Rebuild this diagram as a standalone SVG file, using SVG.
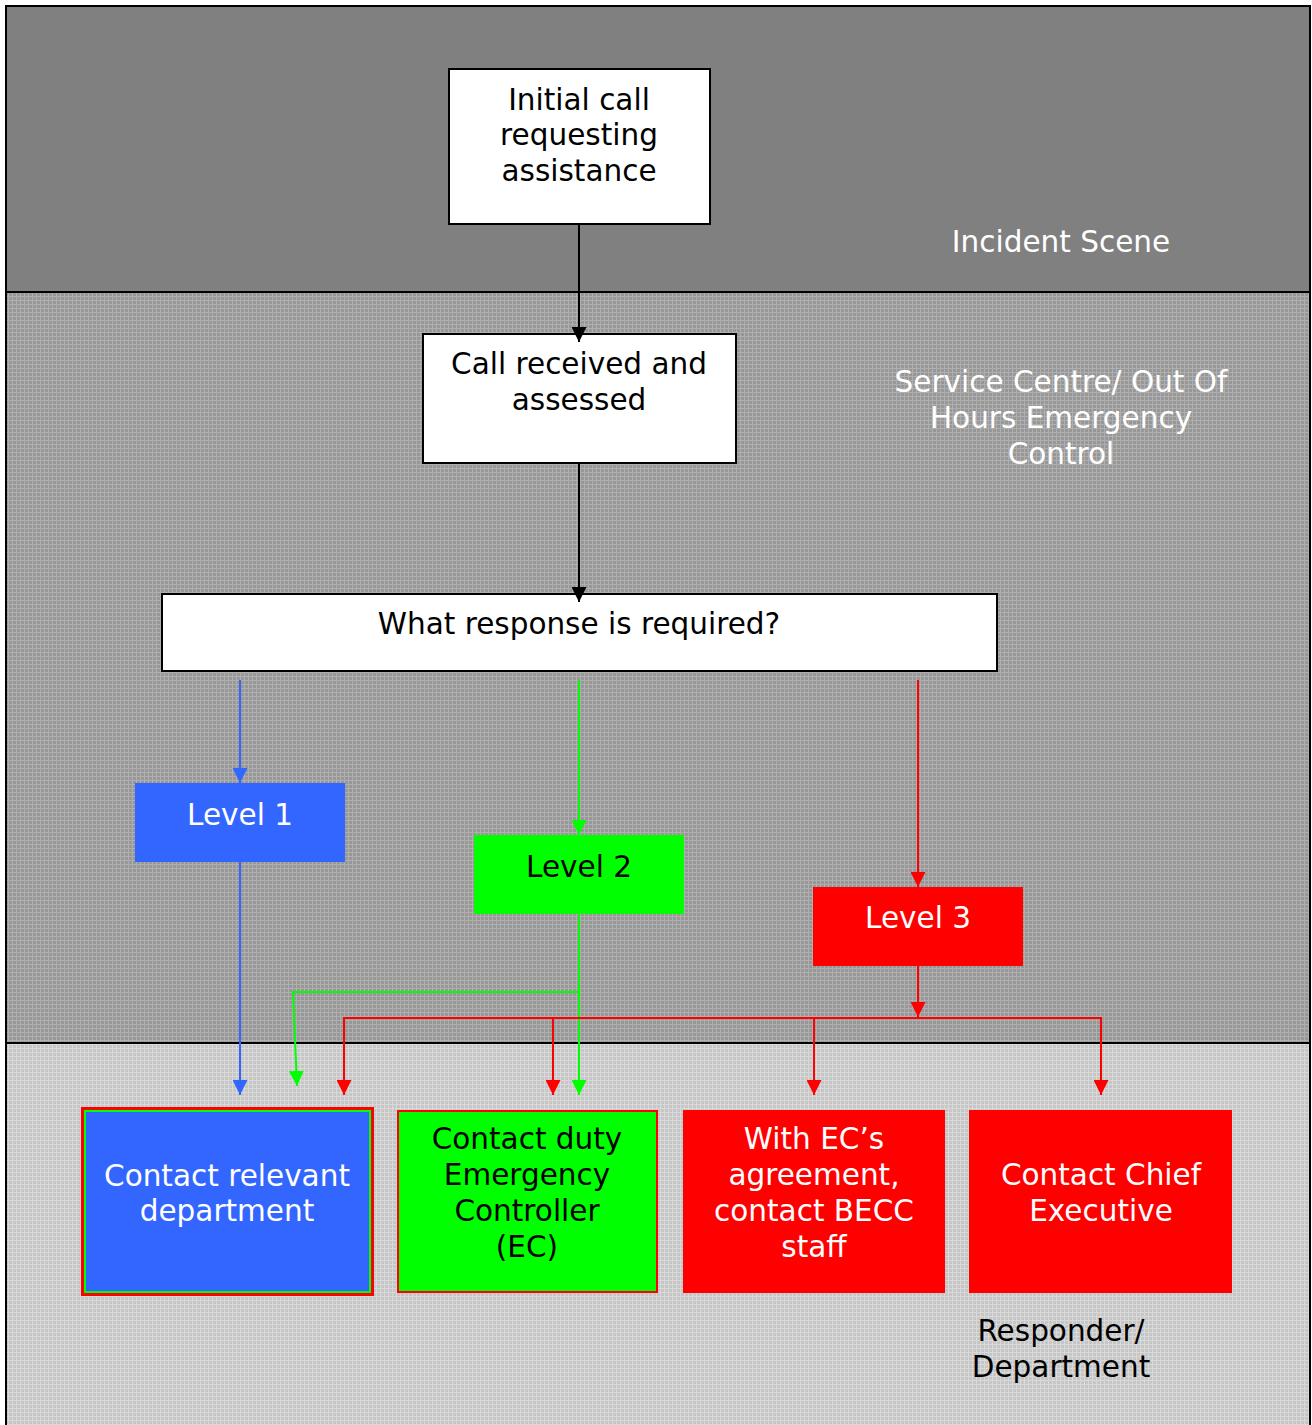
<svg xmlns="http://www.w3.org/2000/svg" width="1312" height="1425" viewBox="0 0 1312 1425">
  <defs>
    <pattern id="texMid" width="4" height="4" patternUnits="userSpaceOnUse">
      <rect width="4" height="4" fill="#979797"/>
      <rect width="4" height="1" fill="#afafaf"/>
      <rect width="1" height="4" fill="#afafaf"/>
    </pattern>
    <pattern id="texLow" width="4" height="4" patternUnits="userSpaceOnUse">
      <rect width="4" height="4" fill="#c6c6c6"/>
      <rect width="4" height="1" fill="#d9d9d9"/>
      <rect width="1" height="4" fill="#d9d9d9"/>
    </pattern>
    <marker id="ahBlack" viewBox="0 0 15 15" refX="15" refY="7.5" markerWidth="15" markerHeight="15" markerUnits="userSpaceOnUse" orient="auto">
      <path d="M0,0 L15,7.5 L0,15 Z" fill="#000000"/>
    </marker>
    <marker id="ahBlue" viewBox="0 0 15 15" refX="15" refY="7.5" markerWidth="15" markerHeight="15" markerUnits="userSpaceOnUse" orient="auto">
      <path d="M0,0 L15,7.5 L0,15 Z" fill="#3366ff"/>
    </marker>
    <marker id="ahGreen" viewBox="0 0 15 15" refX="15" refY="7.5" markerWidth="15" markerHeight="15" markerUnits="userSpaceOnUse" orient="auto">
      <path d="M0,0 L15,7.5 L0,15 Z" fill="#00ff00"/>
    </marker>
    <marker id="ahRed" viewBox="0 0 15 15" refX="15" refY="7.5" markerWidth="15" markerHeight="15" markerUnits="userSpaceOnUse" orient="auto">
      <path d="M0,0 L15,7.5 L0,15 Z" fill="#ff0000"/>
    </marker>
  </defs>
  <style>
    text { font-family: "DejaVu Sans", Verdana, sans-serif; font-size: 29.5px; text-anchor: middle; }
    .dark { fill: #000000; }
    .light { fill: #ffffff; }
    .box { fill: #ffffff; stroke: #000000; stroke-width: 2; }
    .c { fill: none; stroke-width: 2; }
    .cb { stroke: #000000; }
    .cblue { stroke: #3366ff; }
    .cgreen { stroke: #00ff00; }
    .cred { stroke: #ff0000; }
  </style>

  <!-- swimlane bands -->
  <g id="lanes">
    <rect x="0" y="0" width="1312" height="1425" fill="#ffffff"/>
    <rect x="6" y="6" width="1304" height="286" fill="#808080"/>
    <rect x="6" y="292" width="1304" height="751" fill="url(#texMid)"/>
    <rect x="6" y="1043" width="1304" height="382" fill="url(#texLow)"/>
    <path d="M6,1425 V6 H1310 V1425" fill="none" stroke="#000000" stroke-width="2"/>
    <line x1="6" y1="292" x2="1310" y2="292" stroke="#000000" stroke-width="2"/>
    <line x1="6" y1="1043" x2="1310" y2="1043" stroke="#000000" stroke-width="2"/>
  </g>

  <!-- lane labels -->
  <g id="label-incident">
    <text class="light" x="1061" y="252">Incident Scene</text>
  </g>
  <g id="label-service">
    <text class="light" x="1061" y="392">Service Centre/ Out Of</text>
    <text class="light" x="1061" y="428">Hours Emergency</text>
    <text class="light" x="1061" y="464">Control</text>
  </g>
  <g id="label-responder">
    <text class="dark" x="1061" y="1341">Responder/</text>
    <text class="dark" x="1061" y="1377">Department</text>
  </g>

  <!-- nodes -->
  <g id="initial-call">
    <rect class="box" x="449" y="69" width="261" height="155"/>
    <text class="dark" x="579" y="110">Initial call</text>
    <text class="dark" x="579" y="145">requesting</text>
    <text class="dark" x="579" y="181">assistance</text>
  </g>
  <g id="call-received">
    <rect class="box" x="423" y="334" width="313" height="129"/>
    <text class="dark" x="579" y="374">Call received and</text>
    <text class="dark" x="579" y="410">assessed</text>
  </g>
  <g id="what-response">
    <rect class="box" x="162" y="594" width="835" height="77"/>
    <text class="dark" x="579" y="634">What response is required?</text>
  </g>
  <g id="level-1">
    <rect x="135" y="783" width="210" height="79" fill="#3366ff"/>
    <text class="light" x="240" y="825">Level 1</text>
  </g>
  <g id="level-2">
    <rect x="474" y="835" width="210" height="79" fill="#00ff00"/>
    <text class="dark" x="579" y="877">Level 2</text>
  </g>
  <g id="level-3">
    <rect x="813" y="887" width="210" height="79" fill="#ff0000"/>
    <text class="light" x="918" y="928">Level 3</text>
  </g>
  <g id="contact-department">
    <rect x="81" y="1107" width="293" height="189" fill="#ff0000"/>
    <rect x="84" y="1110" width="287" height="183" fill="#00ff00"/>
    <rect x="86" y="1112" width="283" height="179" fill="#3366ff"/>
    <text class="light" x="227" y="1186">Contact relevant</text>
    <text class="light" x="227" y="1221">department</text>
  </g>
  <g id="contact-ec">
    <rect x="398" y="1111" width="259" height="181" fill="#00ff00" stroke="#ff0000" stroke-width="2"/>
    <text class="dark" x="527" y="1149">Contact duty</text>
    <text class="dark" x="527" y="1185">Emergency</text>
    <text class="dark" x="527" y="1221">Controller</text>
    <text class="dark" x="527" y="1257">(EC)</text>
  </g>
  <g id="contact-becc">
    <rect x="683" y="1110" width="262" height="183" fill="#ff0000"/>
    <text class="light" x="814" y="1149">With EC’s</text>
    <text class="light" x="814" y="1185">agreement,</text>
    <text class="light" x="814" y="1221">contact BECC</text>
    <text class="light" x="814" y="1257">staff</text>
  </g>
  <g id="contact-chief">
    <rect x="969" y="1110" width="263" height="183" fill="#ff0000"/>
    <text class="light" x="1101" y="1185">Contact Chief</text>
    <text class="light" x="1101" y="1221">Executive</text>
  </g>

  <!-- connectors -->
  <g id="connectors">
    <line class="c cb" x1="579" y1="224" x2="579" y2="342" marker-end="url(#ahBlack)"/>
    <line class="c cb" x1="579" y1="463" x2="579" y2="602" marker-end="url(#ahBlack)"/>

    <line class="c cblue" x1="240" y1="680" x2="240" y2="783" marker-end="url(#ahBlue)"/>
    <line class="c cblue" x1="240" y1="862" x2="240" y2="1095" marker-end="url(#ahBlue)"/>

    <line class="c cgreen" x1="579" y1="680" x2="579" y2="835" marker-end="url(#ahGreen)"/>
    <line class="c cgreen" x1="579" y1="914" x2="579" y2="1095" marker-end="url(#ahGreen)"/>
    <path class="c cgreen" d="M579,992 H293 L297,1086" marker-end="url(#ahGreen)"/>

    <line class="c cred" x1="918" y1="680" x2="918" y2="887" marker-end="url(#ahRed)"/>
    <line class="c cred" x1="918" y1="966" x2="918" y2="1017" marker-end="url(#ahRed)"/>
    <path class="c cred" d="M344,1095 V1018 H1101 V1095" marker-end="url(#ahRed)"/>
    <line class="c cred" x1="344" y1="1018" x2="344" y2="1095" marker-end="url(#ahRed)"/>
    <line class="c cred" x1="553" y1="1018" x2="553" y2="1095" marker-end="url(#ahRed)"/>
    <line class="c cred" x1="814" y1="1018" x2="814" y2="1095" marker-end="url(#ahRed)"/>
  </g>
</svg>
